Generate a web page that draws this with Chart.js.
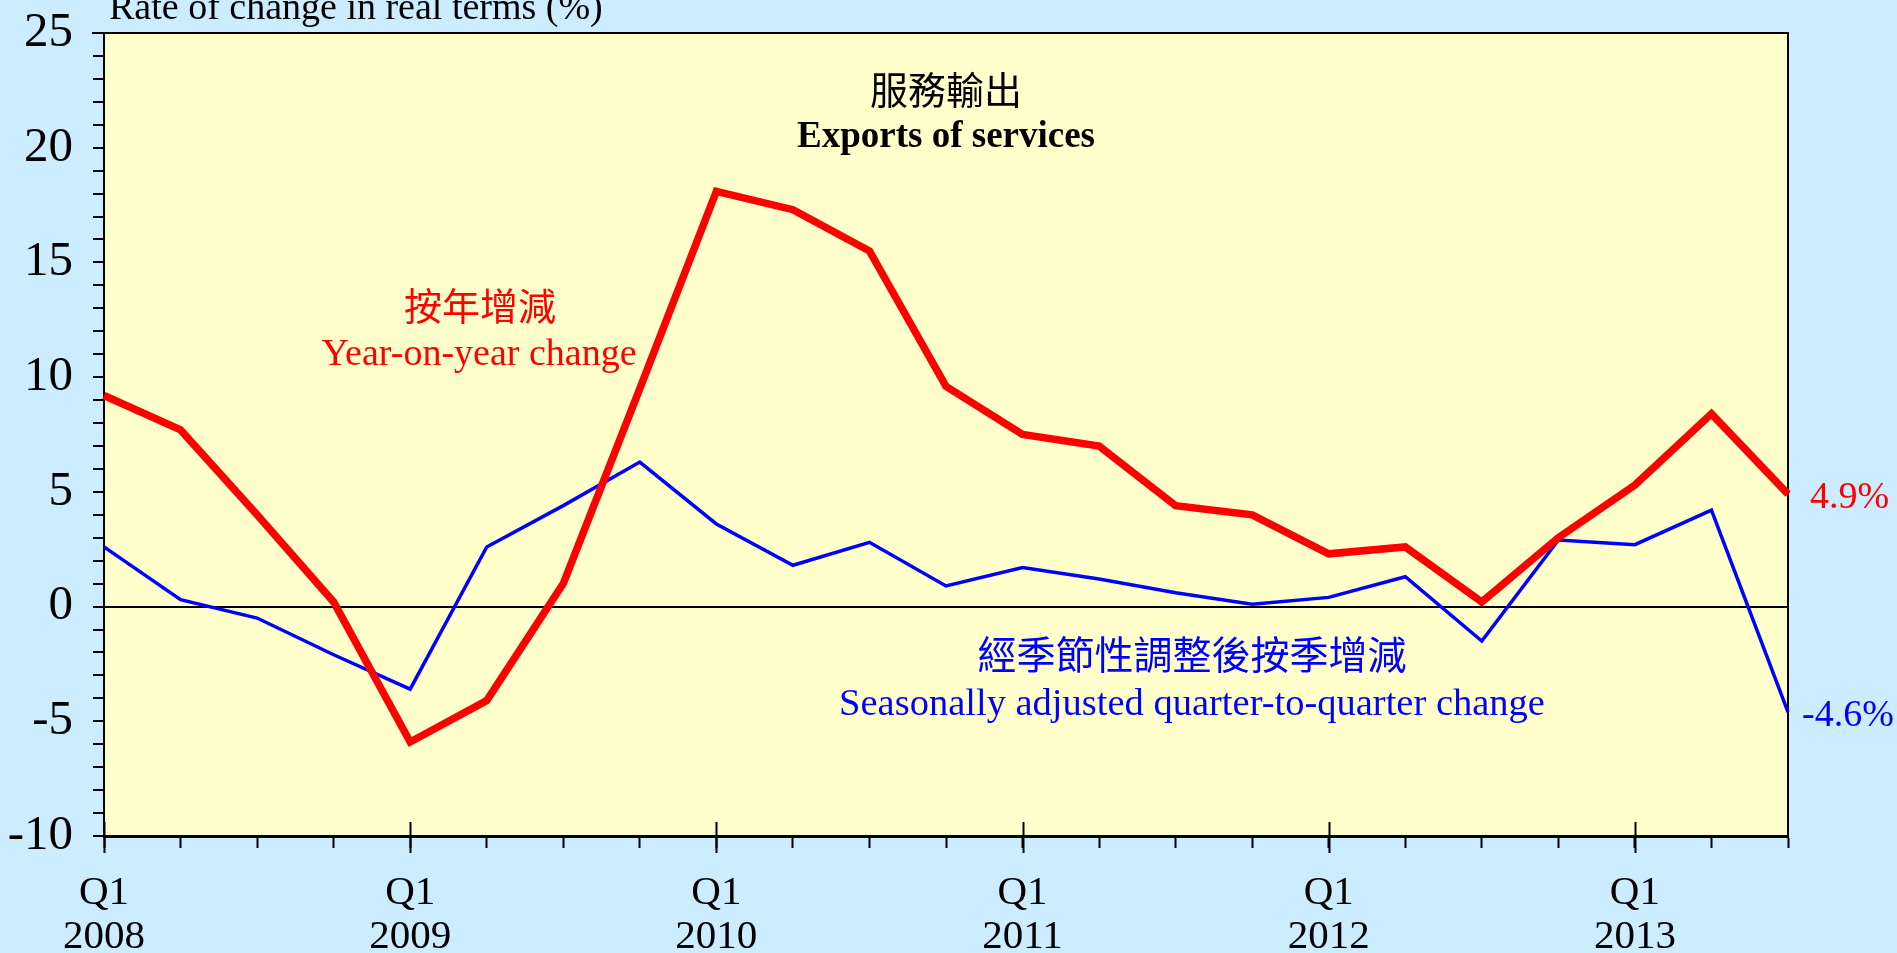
<!DOCTYPE html>
<html>
<head>
<meta charset="utf-8">
<script src="https://cdn.jsdelivr.net/npm/chart.js@4/dist/chart.umd.min.js"></script>
<style>
  html, body { margin: 0; padding: 0; background: #CCECFF; }
  canvas { display: block; }
</style>
</head>
<body>
<canvas id="servicesChart" width="1897" height="953"></canvas>
<script>

// quarters Q1 2008 .. Q3 2013
const quarters = [
    "2008 Q1", "2008 Q2", "2008 Q3", "2008 Q4",
    "2009 Q1", "2009 Q2", "2009 Q3", "2009 Q4",
    "2010 Q1", "2010 Q2", "2010 Q3", "2010 Q4",
    "2011 Q1", "2011 Q2", "2011 Q3", "2011 Q4",
    "2012 Q1", "2012 Q2", "2012 Q3", "2012 Q4",
    "2013 Q1", "2013 Q2", "2013 Q3"
];

const yearOnYear = [
    9.2, 7.7, 4.0, 0.2,
    -5.9, -4.1, 1.0, 9.5,
    18.1, 17.3, 15.5, 9.6,
    7.5, 7.0, 4.4, 4.0,
    2.3, 2.6, 0.2, 3.0,
    5.3, 8.4, 4.9
];

const quarterOnQuarter = [
    2.6, 0.3, -0.5, -2.1,
    -3.6, 2.6, 4.4, 6.3,
    3.6, 1.8, 2.8, 0.9,
    1.7, 1.2, 0.6, 0.1,
    0.4, 1.3, -1.5, 2.9,
    2.7, 4.2, -4.6
];

const yMin = -10;
const yMax = 25;

const serif = "'Liberation Serif', 'Times New Roman', serif";
const cjk = "'Noto Sans CJK TC', 'Noto Sans CJK SC', sans-serif";

const backdrop = {

    id: "backdrop",

    beforeDraw(chart) {

        const { ctx, chartArea: a } = chart;

        ctx.save();
        ctx.fillStyle = "#CCECFF";
        ctx.fillRect(0, 0, chart.width, chart.height);
        ctx.fillStyle = "#FFFFCC";
        ctx.fillRect(a.left, a.top, a.right - a.left, a.bottom - a.top);
        ctx.restore();

    },

    beforeDatasetsDraw(chart) {

        const { ctx, chartArea: a } = chart;

        // top and right frame
        ctx.save();
        ctx.strokeStyle = "#000";
        ctx.lineWidth = 2;
        ctx.beginPath();
        ctx.moveTo(a.left - 12, a.top);
        ctx.lineTo(a.right, a.top);
        ctx.lineTo(a.right, a.bottom);
        ctx.stroke();
        ctx.restore();

    },

    afterDraw(chart) {

        const { ctx, chartArea: a, scales } = chart;
        const x = scales.x;
        const y = scales.y;

        ctx.save();

        // long ticks at each Q1
        ctx.strokeStyle = "#000";
        ctx.lineWidth = 2;
        quarters.forEach((q, i) => {
            if (q.endsWith("Q1")) {
                const px = Math.round(x.getPixelForValue(i)) + 0.5;
                ctx.beginPath();
                ctx.moveTo(px, a.bottom - 14);
                ctx.lineTo(px, a.bottom + 17);
                ctx.stroke();
            }
        });

        // axis caption, partly cut by the top edge
        ctx.fillStyle = "#000";
        ctx.font = "38px " + serif;
        ctx.textAlign = "left";
        ctx.textBaseline = "alphabetic";
        ctx.fillText("Rate of change in real terms (%)", 109, 19);

        // chart title
        const cx = (a.left + a.right) / 2;
        ctx.textAlign = "center";
        ctx.textBaseline = "middle";
        ctx.font = "38px " + cjk;
        ctx.fillText("服務輸出", cx, 90);
        ctx.font = "bold 37px " + serif;
        ctx.fillText("Exports of services", cx, 137);

        // series captions
        ctx.fillStyle = "#FF0000";
        ctx.font = "38px " + cjk;
        ctx.fillText("按年增減", 480, 306);
        ctx.font = "38px " + serif;
        ctx.fillText("Year-on-year change", 479, 355);

        ctx.fillStyle = "#0000FF";
        ctx.font = "39px " + cjk;
        ctx.fillText("經季節性調整後按季增減", 1192, 654);
        ctx.font = "38.5px " + serif;
        ctx.fillText("Seasonally adjusted quarter-to-quarter change", 1192, 705);

        // latest values
        const last = quarters.length - 1;
        const lx = x.getPixelForValue(last);
        ctx.textAlign = "left";
        ctx.font = "38px " + serif;
        ctx.fillStyle = "#FF0000";
        ctx.fillText(yearOnYear[last].toFixed(1) + "%", lx + 22,
            y.getPixelForValue(yearOnYear[last]) + 4);
        ctx.fillStyle = "#0000FF";
        ctx.fillText(quarterOnQuarter[last].toFixed(1) + "%", lx + 14,
            y.getPixelForValue(quarterOnQuarter[last]) + 4);

        ctx.restore();

    }

};

new Chart(

    document.getElementById("servicesChart"),

    {

        type: "line",

        data: {

            labels: quarters,

            datasets: [

                {
                    label: "Year-on-year change",
                    data: yearOnYear,
                    borderColor: "#FF0000",
                    borderWidth: 7.5,
                    pointRadius: 0,
                    tension: 0,
                    borderJoinStyle: "miter",
                    borderCapStyle: "butt"
                },

                {
                    label: "Seasonally adjusted quarter-to-quarter change",
                    data: quarterOnQuarter,
                    borderColor: "#0000FF",
                    borderWidth: 3.5,
                    pointRadius: 0,
                    tension: 0,
                    borderJoinStyle: "miter",
                    borderCapStyle: "butt"
                }

            ]

        },

        options: {

            responsive: false,
            animation: false,
            devicePixelRatio: 1,

            layout: {
                padding: { top: 33, right: 109, left: 0, bottom: 0 }
            },

            plugins: {
                legend: { display: false },
                tooltip: { enabled: false }
            },

            scales: {

                x: {
                    type: "category",
                    offset: false,
                    border: { color: "#000", width: 3 },
                    grid: {
                        drawOnChartArea: false,
                        tickLength: 12,
                        tickColor: "#000",
                        tickWidth: 2
                    },
                    ticks: {
                        autoSkip: false,
                        maxRotation: 0,
                        minRotation: 0,
                        padding: 23,
                        color: "#000",
                        font: { family: serif, size: 41, lineHeight: 1.07 },
                        callback: function (value, index) {
                            const q = quarters[index];
                            return q.endsWith("Q1") ? ["Q1", q.slice(0, 4)] : "";
                        }
                    },
                    afterFit(scale) {
                        scale.height = 117;
                    }
                },

                y: {
                    min: yMin,
                    max: yMax,
                    border: { color: "#000", width: 2 },
                    grid: {
                        drawOnChartArea: true,
                        color: ctx => ctx.tick && ctx.tick.value === 0 ? "#000" : "rgba(0,0,0,0)",
                        lineWidth: 2,
                        tickLength: 11,
                        tickColor: "#000",
                        tickWidth: 2
                    },
                    ticks: {
                        stepSize: 1,
                        autoSkip: false,
                        padding: 20,
                        color: "#000",
                        font: { family: serif, size: 49, lineHeight: 1 },
                        callback: v => v % 5 === 0 ? String(v) : ""
                    },
                    afterFit(scale) {
                        scale.width = 104;
                        // let the layout padding alone decide the plot top
                        scale.paddingTop = 0;
                        scale.paddingBottom = 0;
                    }
                }

            }

        },

        plugins: [backdrop]

    }

);

</script>
</body>
</html>
